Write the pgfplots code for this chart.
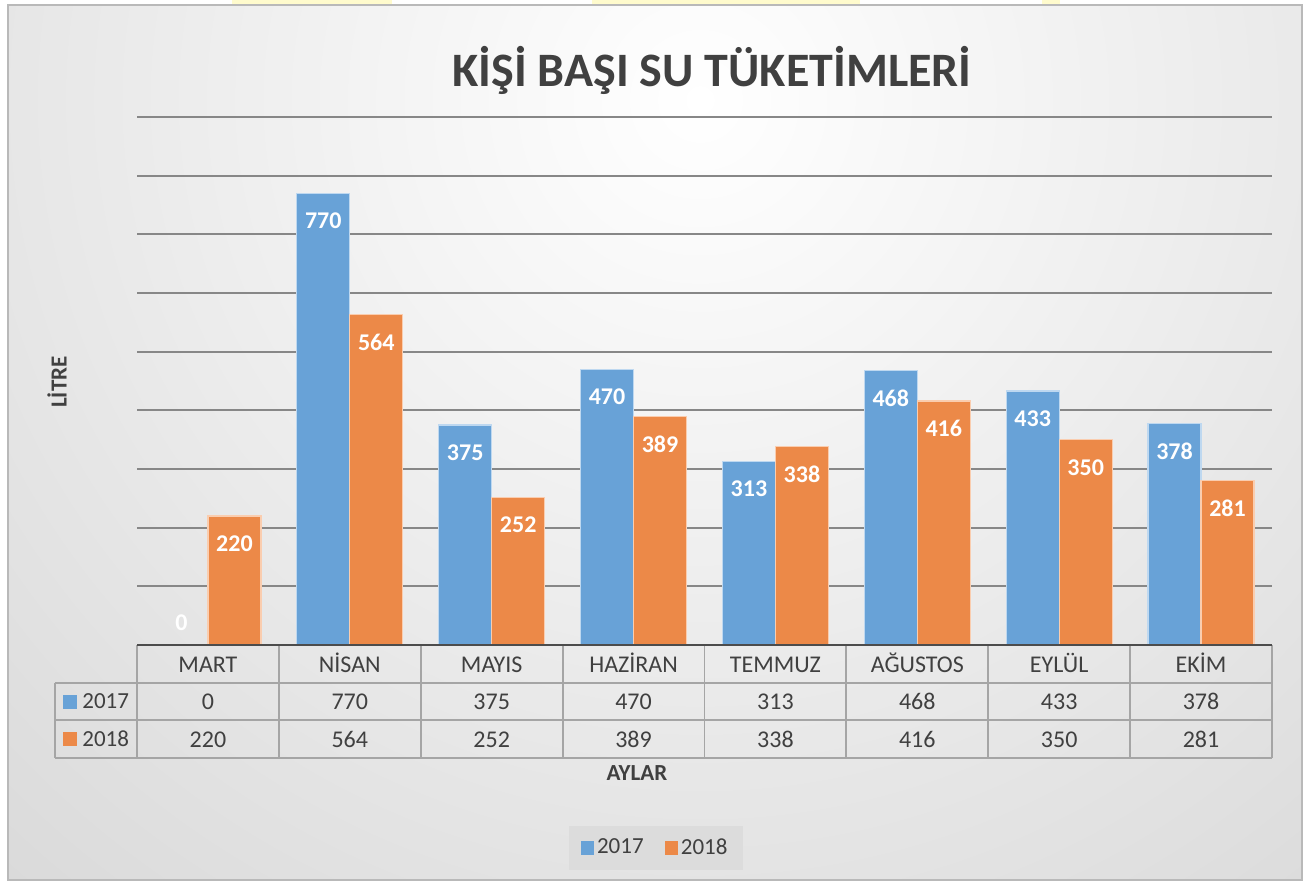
\documentclass[border=0pt]{standalone}
\usepackage{fontspec}
\setmainfont{Carlito}
\usepackage{pgfplots}
\pgfplotsset{compat=1.18}

\definecolor{barblue}{RGB}{104,162,215}
\definecolor{blueedge}{RGB}{190,216,240}
\definecolor{barorange}{RGB}{236,137,72}
\definecolor{orangeedge}{RGB}{250,205,175}
\definecolor{txt}{RGB}{64,64,64}
\definecolor{gridc}{RGB}{135,135,135}
\definecolor{tabc}{RGB}{165,165,165}
\definecolor{bgedge}{RGB}{194,194,194}
\definecolor{framec}{RGB}{185,185,185}
\definecolor{yel}{RGB}{255,251,205}
\definecolor{legfill}{RGB}{220,220,220}

\begin{document}
\begin{tikzpicture}
% 1 px of the reference = 0.5pt
\fill[white] (0,0) rectangle (654.5pt,-442pt);
\fill[yel] (116pt,0) rectangle (196pt,-2.4pt);
\fill[yel] (296pt,0) rectangle (430pt,-2.4pt);
\fill[yel] (521pt,0) rectangle (530pt,-2.4pt);
\begin{scope}
  \clip (4pt,-2.5pt) rectangle (651pt,-440pt);
  \shade[inner color=white, outer color=bgedge] (350pt,-50pt) circle (860pt);
\end{scope}
\draw[framec, line width=1pt] (4pt,-2.5pt) rectangle (651pt,-440pt);

\begin{axis}[
  at={(68.5pt,-322.5pt)}, anchor=south west,
  width=567.5pt, height=264pt, scale only axis,
  xmin=-0.5, xmax=7.5, ymin=0, ymax=900,
  ybar=0pt, bar width=26.5pt,
  axis line style={draw=none},
  major tick length=0pt,
  ytick={100,200,...,900}, yticklabels={},
  ymajorgrids, major grid style={gridc, line width=1.1pt},
  xtick={0,...,7},
  xticklabels={
    {\rule{0pt}{11pt}MART\\0\\220},
    {\rule{0pt}{11pt}NİSAN\\770\\564},
    {\rule{0pt}{11pt}MAYIS\\375\\252},
    {\rule{0pt}{11pt}HAZİRAN\\470\\389},
    {\rule{0pt}{11pt}TEMMUZ\\313\\338},
    {\rule{0pt}{11pt}AĞUSTOS\\468\\416},
    {\rule{0pt}{11pt}EYLÜL\\433\\350},
    {\rule{0pt}{11pt}EKİM\\378\\281}},
  xticklabel style={align=center, font=\fontsize{12}{18.75}\selectfont,
    text=txt, inner sep=0pt, anchor=north, yshift=-2.4pt},
  title={KİŞİ BAŞI SU TÜKETİMLERİ},
  title style={at={(0.5066,1.066)}, anchor=center,
    font=\fontsize{24}{28}\selectfont\bfseries, text=txt},
  ylabel={LİTRE},
  ylabel style={at={(-0.0705,0.498)}, anchor=center,
    font=\fontsize{11.5}{13}\selectfont\bfseries, text=txt},
  xlabel={AYLAR},
  xlabel style={at={(0.4405,-0.2424)}, anchor=center,
    font=\fontsize{11.5}{13}\selectfont\bfseries, text=txt},
  legend style={at={(0.457,-0.3845)}, anchor=center, legend columns=2,
    draw=none, fill=legfill, text=txt, inner xsep=6pt, inner ysep=5pt,
    font=\fontsize{11.5}{13}\selectfont, nodes={inner sep=1.5pt},
    /tikz/every even column/.append style={column sep=9pt}},
  legend image code/.code={\fill[#1, draw=none] (0pt,-3.3pt) rectangle (6.6pt,3.3pt);},
  /pgf/number format/assume math mode=true,
  nodes near coords,
  visualization depends on={rawy \as \rawy},
  every node near coord/.append style={font=\fontsize{12}{14}\selectfont\bfseries,
    text=white, anchor=north, inner sep=0pt,
    yshift={(\rawy==0 ? 15.5 : -9.5)*1pt}},
  clip=false,
]
\addplot[fill=barblue, draw=blueedge, line width=0.6pt] coordinates
  {(0,0) (1,770) (2,375) (3,470) (4,313) (5,468) (6,433) (7,378)};
\addlegendentry{2017}
\addplot[fill=barorange, draw=orangeedge, line width=0.6pt] coordinates
  {(0,220) (1,564) (2,252) (3,389) (4,338) (5,416) (6,350) (7,281)};
\addlegendentry{2018}

% data table grid
\draw[tabc, line width=0.9pt] ([xshift=-41pt,yshift=-19pt]axis cs:-0.5,0) -- ([yshift=-19pt]axis cs:7.5,0);
\draw[tabc, line width=0.9pt] ([xshift=-41pt,yshift=-37.5pt]axis cs:-0.5,0) -- ([yshift=-37.5pt]axis cs:7.5,0);
\draw[tabc, line width=0.9pt] ([xshift=-41pt,yshift=-56.5pt]axis cs:-0.5,0) -- ([yshift=-56.5pt]axis cs:7.5,0);
\draw[tabc, line width=0.9pt] ([xshift=-41pt,yshift=-19pt]axis cs:-0.5,0) -- ([xshift=-41pt,yshift=-56.5pt]axis cs:-0.5,0);
\pgfplotsinvokeforeach{-0.5,0.5,...,7.5}{
  \draw[tabc, line width=0.9pt] (axis cs:#1,0) -- ([yshift=-56.5pt]axis cs:#1,0);
}
\draw[black!70, line width=0.9pt] (axis cs:-0.5,0) -- (axis cs:7.5,0);
% row headers
\fill[barblue] ([xshift=-37pt,yshift=-24.75pt]axis cs:-0.5,0) rectangle ++(7pt,-7pt);
\fill[barorange] ([xshift=-37pt,yshift=-43.5pt]axis cs:-0.5,0) rectangle ++(7pt,-7pt);
\node[anchor=west, inner sep=0pt, text=txt, font=\fontsize{11.5}{13}\selectfont]
  at ([xshift=-27.5pt,yshift=-28.25pt]axis cs:-0.5,0) {2017};
\node[anchor=west, inner sep=0pt, text=txt, font=\fontsize{11.5}{13}\selectfont]
  at ([xshift=-27.5pt,yshift=-47pt]axis cs:-0.5,0) {2018};
\end{axis}
\end{tikzpicture}
\end{document}
